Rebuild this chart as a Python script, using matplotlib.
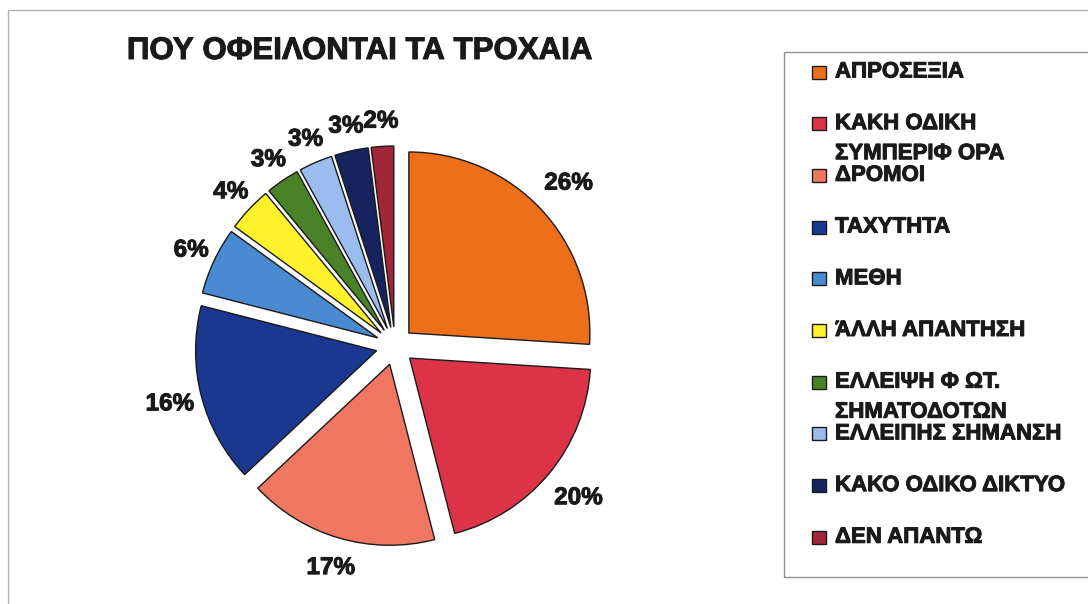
import math
import matplotlib
matplotlib.use("Agg")
import matplotlib.pyplot as plt
from matplotlib.patches import Rectangle
import matplotlib.patheffects as pe

plt.rcParams['font.family'] = ['Liberation Sans', 'DejaVu Sans']

title = "ΠΟΥ ΟΦΕΙΛΟΝΤΑΙ ΤΑ ΤΡΟΧΑΙΑ"
categories = [
    "ΑΠΡΟΣΕΞΙΑ",
    "ΚΑΚΗ ΟΔΙΚΗ\nΣΥΜΠΕΡΙΦ ΟΡΑ",
    "ΔΡΟΜΟΙ",
    "ΤΑΧΥΤΗΤΑ",
    "ΜΕΘΗ",
    "ΆΛΛΗ ΑΠΑΝΤΗΣΗ",
    "ΕΛΛΕΙΨΗ Φ ΩΤ.\nΣΗΜΑΤΟΔΟΤΩΝ",
    "ΕΛΛΕΙΠΗΣ ΣΗΜΑΝΣΗ",
    "ΚΑΚΟ ΟΔΙΚΟ ΔΙΚΤΥΟ",
    "ΔΕΝ ΑΠΑΝΤΩ",
]
values = [26, 20, 17, 16, 6, 4, 3, 3, 3, 2]
colors = ["#EE6F1A", "#DC3349", "#EF7762", "#1B3890", "#4A8AD0",
          "#FFF22A", "#4A8327", "#9ABCEE", "#16235E", "#A32638"]

# label distance per slice (style)
label_dist = [1.21, 1.21, 1.17, 1.18, 1.14, 1.14, 1.14, 1.14, 1.14, 1.14]

W, H = 1088, 604
fig = plt.figure(figsize=(W / 100, H / 100), dpi=100)
fig.patch.set_facecolor("white")

thick = [pe.withStroke(linewidth=0.7, foreground='#1a1a1a')]

cx, cy, r = 395, 346, 181
ax = fig.add_axes([0, 0, 1, 1])
wedges, texts, autotexts = ax.pie(
    values, colors=colors, startangle=90, counterclock=False,
    explode=[0.105] * len(values), radius=1.0,
    autopct='%1.0f%%', pctdistance=1.21,
    wedgeprops=dict(edgecolor="#1a1a1a", linewidth=1.0),
    textprops=dict(fontsize=17.5, fontweight='bold', color='#1a1a1a'))
for w, t, d in zip(wedges, autotexts, label_dist):
    th = math.radians(0.5 * (w.theta1 + w.theta2))
    x0, y0 = w.center
    t.set_position((x0 + d * math.cos(th), y0 + d * math.sin(th)))
    t.set_path_effects(thick)
ax.set_xlim(-cx / r, (W - cx) / r)
ax.set_ylim(-(H - cy) / r, cy / r)
ax.set_aspect('auto')
ax.axis('off')

def fx(px):
    return px / W

def fy(py):
    return 1 - py / H

# outer border
fig.add_artist(Rectangle((fx(8), fy(H + 20)), 1.2, fy(10) - fy(H + 20),
                         transform=fig.transFigure, fill=False,
                         edgecolor="#b0b0b0", linewidth=1.0))

# title
fig.text(fx(360), fy(51), title, ha='center', va='center',
         fontsize=22.5, fontweight='bold', color='#1a1a1a',
         path_effects=thick)

# legend box
fig.add_artist(Rectangle((fx(784), fy(577)), 0.5, fy(52) - fy(577),
                         transform=fig.transFigure, fill=False,
                         edgecolor="#909090", linewidth=1.0))

row0, step, lstep = 72, 51.7, 30
for i, (lab, col) in enumerate(zip(categories, colors)):
    yc = row0 + i * step
    fig.add_artist(Rectangle((fx(812), fy(yc + 6.5)), 14 / W, 13 / H,
                             transform=fig.transFigure, facecolor=col,
                             edgecolor="#1a1a1a", linewidth=1.0))
    for k, line in enumerate(lab.split("\n")):
        fig.text(fx(835), fy(yc + k * lstep), line, ha='left', va='center',
                 fontsize=16, fontweight='bold', color='#1a1a1a',
                 path_effects=thick)

fig.savefig("out.png", dpi=100, facecolor="white")
